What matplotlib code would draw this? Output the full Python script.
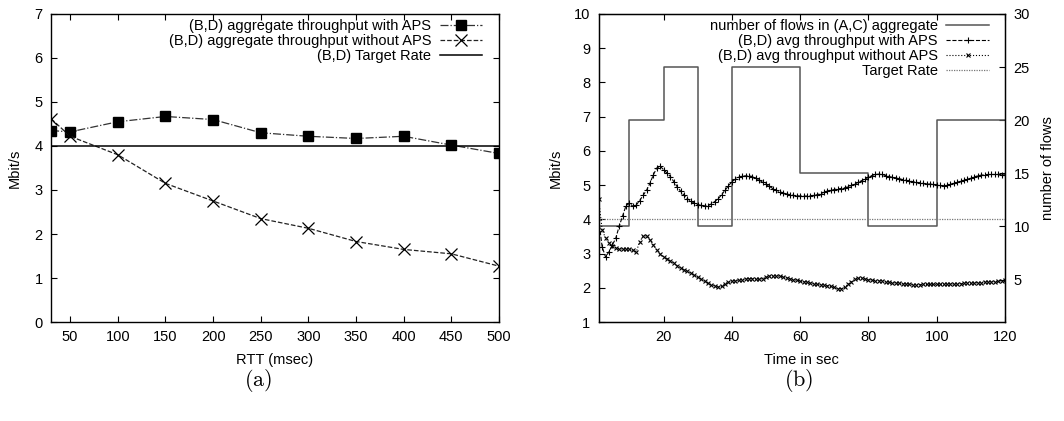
import matplotlib
matplotlib.use("Agg")
import matplotlib.pyplot as plt

plt.rcParams["font.family"] = ["Liberation Sans", "DejaVu Sans"]
plt.rcParams["mathtext.fontset"] = "cm"

# (a) aggregate throughput vs RTT
rtt = [30, 50, 100, 150, 200, 250, 300, 350, 400, 450, 500]
agg_with_aps = [4.35, 4.32, 4.55, 4.67, 4.60, 4.30, 4.22, 4.17, 4.22, 4.02, 3.83]
agg_without_aps = [4.62, 4.22, 3.80, 3.15, 2.75, 2.35, 2.13, 1.83, 1.65, 1.55, 1.27]
target_a = 4.0

# (b) throughput over time
flow_times = [1, 10, 20, 30, 40, 60, 80, 100, 120]
flow_counts = [10, 20, 25, 10, 25, 15, 10, 20, 20]
seconds = list(range(1, 121))
avg_with_aps = [
    4.00, 3.20, 2.90, 3.05, 3.25, 3.45, 3.80, 4.10, 4.40, 4.47,
    4.38, 4.42, 4.55, 4.70, 4.85, 5.05, 5.30, 5.50, 5.55, 5.45,
    5.35, 5.25, 5.10, 4.95, 4.82, 4.70, 4.60, 4.53, 4.47, 4.43,
    4.41, 4.39, 4.40, 4.45, 4.52, 4.60, 4.72, 4.85, 4.98, 5.10,
    5.17, 5.23, 5.26, 5.27, 5.27, 5.25, 5.20, 5.15, 5.08, 5.02,
    4.96, 4.90, 4.85, 4.81, 4.77, 4.74, 4.72, 4.70, 4.69, 4.68,
    4.68, 4.68, 4.69, 4.70, 4.72, 4.75, 4.79, 4.83, 4.85, 4.87,
    4.89, 4.90, 4.92, 4.95, 4.99, 5.03, 5.08, 5.13, 5.18, 5.23,
    5.28, 5.31, 5.32, 5.31, 5.28, 5.25, 5.23, 5.21, 5.19, 5.16,
    5.14, 5.12, 5.10, 5.08, 5.07, 5.05, 5.04, 5.03, 5.02, 5.01,
    4.99, 4.98, 4.99, 5.02, 5.05, 5.08, 5.11, 5.14, 5.17, 5.20,
    5.24, 5.27, 5.29, 5.30, 5.31, 5.31, 5.31, 5.31, 5.30, 5.30,
]
avg_without_aps = [
    4.58, 3.70, 3.45, 3.32, 3.22, 3.17, 3.14, 3.13, 3.12, 3.13,
    3.10, 3.05, 3.35, 3.50, 3.52, 3.40, 3.25, 3.10, 2.98, 2.90,
    2.85, 2.79, 2.72, 2.65, 2.59, 2.53, 2.48, 2.43, 2.37, 2.31,
    2.25, 2.19, 2.13, 2.09, 2.05, 2.03, 2.04, 2.12, 2.17, 2.19,
    2.20, 2.22, 2.24, 2.25, 2.26, 2.26, 2.26, 2.25, 2.27, 2.31,
    2.34, 2.35, 2.35, 2.34, 2.32, 2.30, 2.27, 2.24, 2.22, 2.20,
    2.18, 2.16, 2.14, 2.12, 2.10, 2.08, 2.07, 2.06, 2.04, 2.01,
    1.98, 1.97, 2.02, 2.10, 2.18, 2.25, 2.28, 2.28, 2.26, 2.24,
    2.23, 2.21, 2.20, 2.19, 2.18, 2.17, 2.15, 2.14, 2.13, 2.12,
    2.11, 2.10, 2.09, 2.09, 2.09, 2.10, 2.10, 2.10, 2.10, 2.10,
    2.10, 2.10, 2.10, 2.11, 2.11, 2.12, 2.12, 2.13, 2.13, 2.14,
    2.14, 2.15, 2.15, 2.16, 2.16, 2.17, 2.18, 2.19, 2.20, 2.22,
]
target_b = 4.0

FS = 10.5


def gp_ticks(ax, right=True):
    ax.tick_params(direction="in", length=4, width=0.8, labelsize=FS,
                   top=True, right=right, pad=6)
    for s in ax.spines.values():
        s.set_linewidth(1.0)


fig = plt.figure(figsize=(10.64, 4.21), dpi=100)

# ---- panel (a)
ax1 = fig.add_axes([0.048, 0.235, 0.421, 0.732])
ax1.plot(rtt, agg_with_aps, color="#333333", ls="-.", lw=0.9, marker="s",
         ms=7.5, mfc="black", mec="black",
         label="(B,D) aggregate throughput with APS")
ax1.plot(rtt, agg_without_aps, color="#222222", ls="--", lw=0.9, marker="x",
         ms=8, mew=0.9, mec="black",
         label="(B,D) aggregate throughput without APS")
ax1.axhline(target_a, color="black", lw=1.1, label="(B,D) Target Rate")
ax1.set_xlim(30, 500)
ax1.set_ylim(0, 7)
ax1.set_xticks(range(50, 501, 50))
ax1.set_yticks(range(0, 8))
ax1.set_xlabel("RTT (msec)", fontsize=FS, labelpad=6)
ax1.set_ylabel("Mbit/s", fontsize=FS, labelpad=9)
gp_ticks(ax1)
ax1.legend(loc="upper right", frameon=False, markerfirst=False, fontsize=FS,
           handlelength=2.9, handletextpad=0.6, labelspacing=0.05,
           borderaxespad=0.3, bbox_to_anchor=(0.985, 1.015))

# ---- panel (b)
ax2 = fig.add_axes([0.5627, 0.235, 0.3819, 0.732])
ax3 = ax2.twinx()
ax3.plot(flow_times, flow_counts, drawstyle="steps-post", color="#555555",
         lw=1.1, label="number of flows in (A,C) aggregate")
ax3.set_ylim(1, 30)
ax3.set_yticks(range(5, 31, 5))
ax3.set_ylabel("number of flows", fontsize=FS, labelpad=8)
ax3.tick_params(direction="in", length=4, width=0.8, labelsize=FS, pad=6)

ax2.plot(seconds, avg_with_aps, color="black", ls="--", lw=0.8, marker="+",
         ms=4, mew=0.8, label="(B,D) avg throughput with APS")
ax2.plot(seconds, avg_without_aps, color="black", ls=":", lw=0.8, marker="x",
         ms=3.5, mew=0.8, label="(B,D) avg throughput without APS")
ax2.axhline(target_b, color="#777777", ls=(0, (1, 1)), lw=0.9,
            label="Target Rate")
ax2.set_xlim(1, 120)
ax2.set_ylim(1, 10)
ax2.set_xticks(range(20, 121, 20))
ax2.set_yticks(range(1, 11))
ax2.set_xlabel("Time in sec", fontsize=FS, labelpad=6)
ax2.set_ylabel("Mbit/s", fontsize=FS, labelpad=8)
gp_ticks(ax2, right=False)
ax2.set_zorder(ax3.get_zorder() + 1)
ax2.patch.set_visible(False)

h3, l3 = ax3.get_legend_handles_labels()
h2, l2 = ax2.get_legend_handles_labels()
ax2.legend(h3 + h2, l3 + l2, loc="upper right", frameon=False,
           markerfirst=False, fontsize=FS, handlelength=2.9,
           handletextpad=0.6, labelspacing=0.05, borderaxespad=0.3,
           bbox_to_anchor=(0.985, 1.015))

fig.text(0.243, 0.097, r"$\mathrm{(a)}$", fontsize=16, ha="center", va="center")
fig.text(0.751, 0.097, r"$\mathrm{(b)}$", fontsize=16, ha="center", va="center")

fig.savefig("out.png", dpi=100)
